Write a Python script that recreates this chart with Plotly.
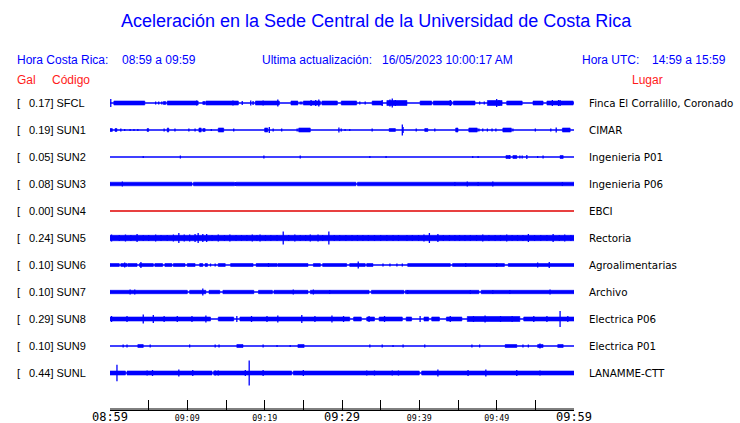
import plotly.graph_objects as go

# ---------------- data ----------------
CODES = ["SFCL", "SUN1", "SUN2", "SUN3", "SUN4", "SUN5", "SUN6", "SUN7", "SUN8", "SUN9", "SUNL"]
GAL = [0.17, 0.19, 0.05, 0.08, 0.00, 0.24, 0.10, 0.10, 0.29, 0.10, 0.44]
PLACES = ["Finca El Corralillo, Coronado", "CIMAR", "Ingenieria P01", "Ingenieria P06", "EBCI",
          "Rectoria", "Agroalimentarias", "Archivo", "Electrica P06", "Electrica P01", "LANAMME-CTT"]

TICK_MINUTES = [0, 5, 10, 15, 20, 25, 30, 35, 40, 45, 50, 55, 60]
TICK_LABELS = ["08:59", "", "09:09", "", "09:19", "", "09:29", "", "09:39", "", "09:49", "", "09:59"]
TICK_BIG = [True, False, False, False, False, False, True, False, False, False, False, False, True]

# envelope segments (start min, end min, half amplitude) and spikes (min, half amplitude)
SFCL_BANDS = [(0.5, 4.5, 2), (6.9, 7.2, 1.5), (7.4, 11.4, 2), (12.0, 12.3, 1.5), (12.4, 16.6, 2),
              (18.8, 21.9, 2), (23.4, 24.3, 2), (25.0, 27.2, 2), (27.4, 29.4, 2), (29.9, 31.9, 2),
              (33.9, 35.2, 2), (35.8, 38.4, 2.5), (40.1, 41.6, 2), (41.8, 44.2, 2), (44.4, 47.2, 2),
              (48.8, 50.7, 2.5), (51.3, 53.3, 2), (54.7, 56.0, 2), (56.5, 59.9, 2)]
SFCL_SPIKES = [(0.1, 4), (5.9, 1.5), (6.3, 1.5), (6.7, 1.5), (11.2, 2.5), (15.9, 2.5), (17.1, 2), (18.2, 2.5),
               (18.5, 2), (19.8, 2.5), (21.7, 3.5), (24.6, 1.5), (24.8, 1.5), (26.0, 3), (26.6, 3), (27.0, 3.5),
               (32.3, 1.5), (33.0, 1.5), (35.2, 3), (36.2, 3.5), (36.5, 4.5), (36.9, 3), (38.0, 2), (44.0, 3),
               (46.0, 2), (47.8, 1.5), (48.4, 1.5), (50.0, 4), (50.3, 3), (52.4, 2), (57.2, 3), (58.0, 3),
               (58.2, 3), (59.6, 2)]

SUN1_BANDS = [(0.0, 0.3, 1.5), (0.65, 0.9, 1.5), (4.8, 5.0, 1.5), (7.4, 7.6, 2), (11.5, 11.8, 2),
              (12.0, 12.3, 1.5), (14.0, 14.7, 2), (20.0, 20.4, 2), (24.4, 25.9, 2), (36.1, 36.9, 1.5),
              (40.7, 41.1, 1.5), (44.7, 45.0, 2), (46.4, 47.5, 2), (50.8, 51.9, 2), (58.5, 59.5, 2)]
SUN1_SPIKES = [(1.4, 1.5), (1.9, 1), (2.6, 1), (3.1, 1), (3.6, 1), (7.0, 1.5), (8.4, 1.5), (10.2, 1.5),
               (11.0, 1.5), (13.1, 1), (16.0, 1.5), (20.6, 3), (21.1, 1.5), (22.2, 1.5), (24.2, 1.5),
               (29.6, 2.5), (29.9, 1.5), (30.4, 1), (31.0, 1), (33.9, 1.5), (37.8, 5.5), (37.9, 3),
               (39.6, 1.5), (42.0, 1.5), (47.7, 1.5), (48.2, 1.5), (48.8, 1.5), (49.4, 1.5), (49.9, 1.5),
               (52.1, 1.5), (55.0, 1.5), (57.0, 1.5), (57.7, 2.5)]

SUN2_BANDS = [(51.2, 51.7, 1.5), (52.1, 52.6, 1.5), (58.2, 58.6, 1.5)]
SUN2_SPIKES = [(4.3, 1), (9.1, 1.5), (19.9, 1.5), (24.6, 1.5), (33.6, 1), (35.7, 1), (46.9, 1), (47.6, 1),
               (51.7, 2), (53.0, 1.5), (53.3, 1.5), (53.9, 2), (55.3, 1), (56.0, 1.5)]

SUN3_BANDS = [(0.0, 10.6, 1.8), (10.8, 16.1, 1.8), (16.3, 31.8, 1.8), (32.0, 60.0, 1.8)]
SUN3_SPIKES = [(1.6, 2.5), (16.2, 2), (44.6, 2), (46.2, 2.5), (47.6, 2), (49.5, 2.5), (58.5, 2)]

SUN4_BANDS = []
SUN4_SPIKES = []

SUN5_BANDS = [(0.0, 60.0, 2.7)]
SUN5_SPIKES = [(0.2, 3.5), (1.2, 3), (2.0, 3.5), (2.7, 3), (3.5, 4), (4.3, 3), (5.0, 3), (5.9, 3.5),
               (6.6, 3), (7.4, 3), (8.2, 3.5), (8.9, 5), (9.6, 3.5), (10.3, 3.5), (11.0, 4), (11.4, 5),
               (12.0, 4), (12.5, 4), (13.2, 3), (14.0, 3.5), (14.8, 3), (15.5, 3.5), (16.3, 3), (17.0, 3),
               (17.7, 3), (18.4, 3.5), (19.0, 3), (19.4, 3.5), (20.1, 3), (20.8, 3), (21.6, 3), (22.4, 6.5),
               (23.1, 3), (23.9, 3.5), (24.6, 3), (25.3, 3), (25.9, 3.5), (26.9, 3.5), (27.5, 3), (28.3, 6.5),
               (29.0, 3), (29.7, 3), (30.5, 3), (31.3, 3), (32.0, 3), (32.7, 3), (33.4, 3), (34.2, 3),
               (35.0, 3), (35.8, 3), (36.6, 3), (37.3, 3), (38.4, 3), (39.1, 3), (39.9, 3), (40.6, 3.5),
               (41.3, 5), (42.4, 4), (43.1, 3), (43.9, 3), (44.6, 3), (45.2, 3), (45.9, 3), (46.6, 3),
               (47.4, 3), (48.2, 3.5), (49.0, 3), (49.8, 3), (50.5, 3), (51.3, 3.5), (52.0, 3), (52.7, 3),
               (53.4, 3), (54.1, 4), (54.9, 3), (55.7, 3), (56.5, 3), (57.3, 4), (58.1, 3), (58.8, 3.5),
               (59.6, 3)]

SUN6_BANDS = [(0.0, 1.2, 1.5), (1.4, 2.2, 1.5), (2.3, 3.5, 1.5), (3.8, 5.6, 1.5), (5.8, 6.8, 1.5),
              (7.1, 8.0, 1.5), (8.2, 9.7, 1.5), (10.0, 11.0, 1.5), (11.6, 12.0, 1.5), (12.3, 12.6, 1.5),
              (14.0, 14.9, 1.5), (15.6, 18.5, 1.5), (18.9, 21.6, 1.5), (21.7, 25.6, 1.5), (26.3, 27.2, 1.5),
              (27.5, 30.6, 1.5), (31.0, 33.0, 1.5), (33.2, 34.0, 1.5), (38.5, 44.0, 1.5), (44.3, 51.0, 1.5),
              (51.5, 60.0, 1.5)]
SUN6_SPIKES = [(1.9, 2.5), (4.0, 3), (13.0, 1.5), (13.6, 1.5), (20.5, 2), (32.1, 3.5), (35.3, 1.5),
               (36.2, 1.5), (37.1, 1.5), (37.8, 1.5), (46.0, 2), (50.0, 2), (55.3, 2.5), (56.8, 3)]

SUN7_BANDS = [(0.0, 10.0, 1.7), (10.3, 12.4, 1.7), (12.8, 14.2, 1.7), (14.6, 18.6, 1.7), (19.2, 21.0, 1.7),
              (21.2, 25.6, 1.7), (25.9, 33.5, 1.7), (33.8, 38.0, 1.7), (38.2, 47.7, 1.7), (48.0, 60.0, 1.7)]
SUN7_SPIKES = [(2.6, 2.5), (3.2, 2.5), (12.0, 3.5), (23.7, 2.5), (26.3, 2.5), (28.4, 2), (38.5, 2),
               (46.6, 2), (49.5, 2), (51.7, 2), (56.9, 2.5)]

SUN8_BANDS = [(0.0, 13.0, 2), (14.0, 16.0, 2), (16.8, 31.0, 2), (31.5, 32.5, 2), (33.2, 34.2, 2),
              (34.8, 37.8, 2), (38.3, 39.0, 2), (40.6, 41.2, 2), (41.6, 42.6, 2), (43.5, 45.5, 2),
              (46.2, 53.0, 2.5), (53.5, 60.0, 2)]
SUN8_SPIKES = [(0.2, 3), (2.2, 3), (4.3, 4.5), (5.6, 4), (7.0, 3), (8.7, 3), (10.6, 3), (12.4, 3.5),
               (16.4, 3), (18.3, 3), (20.3, 3), (21.7, 3.5), (24.8, 4), (26.5, 3), (28.7, 3.5), (30.2, 3),
               (33.5, 3), (35.5, 3), (40.1, 3), (44.0, 3), (47.0, 3), (48.5, 3.5), (50.5, 3), (52.0, 3),
               (54.8, 3), (56.5, 3), (58.2, 8), (59.2, 3)]

SUN9_BANDS = [(3.6, 4.3, 1.5), (16.4, 17.2, 1.5), (24.3, 25.1, 1.5), (51.1, 52.6, 1.5), (55.3, 56.0, 1.5),
              (57.9, 58.6, 1.5)]
SUN9_SPIKES = [(1.7, 1.5), (2.2, 1.5), (5.2, 1.5), (10.3, 1.5), (13.6, 1.5), (14.1, 1.5), (19.8, 1.5),
               (21.6, 1), (23.3, 1), (33.6, 1.5), (35.2, 1.5), (36.6, 1), (37.9, 1.5), (40.7, 1.5),
               (46.8, 1.5), (47.8, 1.5), (53.4, 1.5), (54.1, 1.5), (55.6, 2.5)]

SUNL_BANDS = [(0.0, 2.0, 2), (2.2, 13.2, 2), (13.4, 23.5, 2), (23.7, 40.0, 2), (40.3, 60.0, 2)]
SUNL_SPIKES = [(0.9, 8.3), (4.8, 2.5), (5.5, 3), (8.9, 3.5), (10.7, 3), (13.6, 2.5), (14.0, 2.5),
               (17.5, 3), (18.0, 12.5), (19.8, 3), (25.0, 3), (26.3, 2), (33.2, 2.5), (34.2, 2.5),
               (36.5, 2.5), (37.3, 2.5), (42.4, 3.5), (46.3, 3), (48.6, 3.5), (50.8, 2), (52.6, 3),
               (55.6, 2.5), (59.5, 2)]

BANDS = [SFCL_BANDS, SUN1_BANDS, SUN2_BANDS, SUN3_BANDS, SUN4_BANDS, SUN5_BANDS, SUN6_BANDS,
         SUN7_BANDS, SUN8_BANDS, SUN9_BANDS, SUNL_BANDS]
SPIKES = [SFCL_SPIKES, SUN1_SPIKES, SUN2_SPIKES, SUN3_SPIKES, SUN4_SPIKES, SUN5_SPIKES, SUN6_SPIKES,
          SUN7_SPIKES, SUN8_SPIKES, SUN9_SPIKES, SUNL_SPIKES]

# ---------------- style ----------------
BLUE = "#0000ff"
RED = "#ff1a1a"
AMP = 1 / 27.0          # amplitude unit -> trace spacing unit
PLOT_L, PLOT_R, PLOT_T, PLOT_B = 110, 574, 89, 410
W, H = 740, 423
y_lo, y_hi = -11.37, 0.519

fig = go.Figure()

# time axis baseline (drawn as a trace along the bottom of the plot area)
fig.add_trace(go.Scatter(x=[0, 60], y=[y_lo + 1.0 * AMP, y_lo + 1.0 * AMP], mode="lines",
                         line=dict(color="black", width=1), hoverinfo="skip", cliponaxis=False))

for i, code in enumerate(CODES):
    off = -i
    color = "#e00000" if code == "SUN4" else BLUE
    # baseline
    fig.add_trace(go.Scatter(x=[0, 60], y=[off, off], mode="lines",
                             line=dict(color=color, width=1.3), hoverinfo="skip"))
    # bands
    bx, by = [], []
    for (a, b, h) in BANDS[i]:
        bx += [a, b, b, a, a, None]
        by += [off - h * AMP, off - h * AMP, off + h * AMP, off + h * AMP, off - h * AMP, None]
    if bx:
        fig.add_trace(go.Scatter(x=bx, y=by, mode="lines", fill="toself", fillcolor=color,
                                 line=dict(color=color, width=0.6), hoverinfo="skip"))
    # spikes
    sx, sy = [], []
    for (t, h) in SPIKES[i]:
        sx += [t, t, None]
        sy += [off - h * AMP, off + h * AMP, None]
    if sx:
        fig.add_trace(go.Scatter(x=sx, y=sy, mode="lines",
                                 line=dict(color=color, width=1.3), hoverinfo="skip"))

plot_w = PLOT_R - PLOT_L
plot_h = PLOT_B - PLOT_T


def px(xp):
    return (xp - PLOT_L) / plot_w


def py(yp):
    return (PLOT_B - yp) / plot_h


ARIAL = "Liberation Sans, Arial, sans-serif"
DEJAVU = "DejaVu Sans, sans-serif"

ann = []


def text(s, x, y, size, color, family=ARIAL, anchor="left"):
    ann.append(dict(text=s, x=px(x), y=py(y), xref="paper", yref="paper", xanchor=anchor,
                    yanchor="middle", showarrow=False, font=dict(family=family, size=size, color=color)))


text("Aceleración en la Sede Central de la Universidad de Costa Rica", 376, 21, 18, BLUE, anchor="center")
text("Hora Costa Rica:", 15, 60, 12, BLUE)
text("08:59 a 09:59", 120, 60, 12, BLUE)
text("Ultima actualización:", 260, 60, 12, BLUE)
text("16/05/2023 10:00:17 AM", 380, 60, 12, BLUE)
text("Hora UTC:", 580, 60, 12, BLUE)
text("14:59 a 15:59", 650, 60, 12, BLUE)
text("Gal", 15, 80, 12, RED)
text("Código", 50, 80, 12, RED)
text("Lugar", 630, 80, 12, RED)

for i, code in enumerate(CODES):
    yfrac = (-i - y_lo) / (y_hi - y_lo)
    for s, x, fam, size in [("[", 15, ARIAL, 11), (f"{GAL[i]:.2f}] {code}", 27, ARIAL, 11),
                            (PLACES[i], 587, DEJAVU, 10.3)]:
        ann.append(dict(text=s, x=px(x), y=yfrac, xref="paper", yref="paper", xanchor="left",
                        yanchor="middle", showarrow=False, font=dict(family=fam, size=size, color="black")))

ticktext = [f'<span style="font-size:{12 if big else 8.3}px">{lab}</span>' if lab else ""
            for lab, big in zip(TICK_LABELS, TICK_BIG)]

fig.update_layout(
    template="none",
    width=W, height=H, autosize=False,
    margin=dict(l=PLOT_L, r=W - PLOT_R, t=PLOT_T, b=H - PLOT_B, pad=0),
    paper_bgcolor="white", plot_bgcolor="white",
    showlegend=False,
    annotations=ann,
    xaxis=dict(range=[0, 60], showgrid=False, zeroline=False, showline=True, linecolor="black",
               linewidth=1, ticks="inside", ticklen=10, tickwidth=1, tickcolor="black",
               tickvals=TICK_MINUTES, ticktext=ticktext, automargin=False, ticklabelstandoff=-4,
               tickfont=dict(family="DejaVu Sans Mono, monospace", size=12, color="black")),
    yaxis=dict(range=[y_lo, y_hi], visible=False, showgrid=False, zeroline=False, automargin=False),
)

fig.write_html("out.html", config={"displayModeBar": False, "staticPlot": True},
               post_script="document.body.style.margin='0';document.body.style.overflow='hidden';")
